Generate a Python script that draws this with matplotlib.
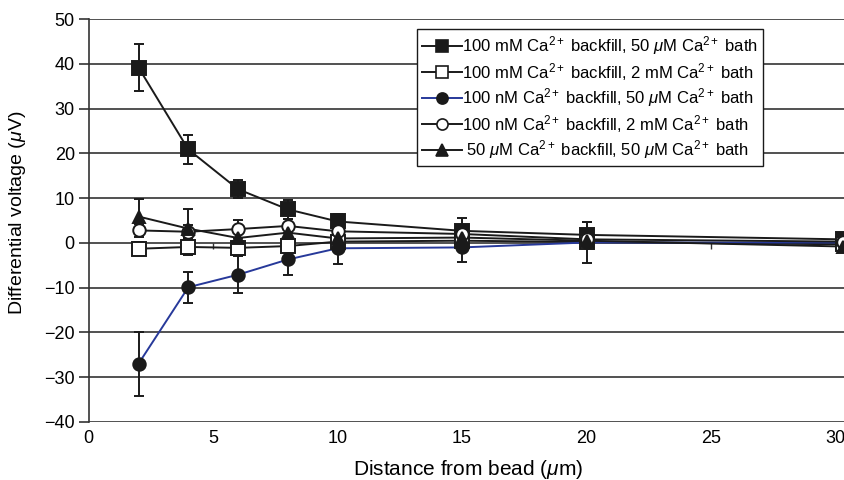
import numpy as np
import matplotlib.pyplot as plt
from matplotlib.lines import Line2D

plt.rcParams['font.family'] = ['Liberation Sans', 'DejaVu Sans']
plt.rcParams['mathtext.fontset'] = 'custom'
plt.rcParams['mathtext.rm'] = 'Liberation Sans'
plt.rcParams['mathtext.it'] = 'Liberation Sans:italic'
plt.rcParams['mathtext.default'] = 'regular'

# distance from bead (um)
dist = [2, 4, 6, 8, 10, 15, 20, 30.3]

# series values (uV) and error bars
sq_fill = [39.2, 20.9, 12.0, 7.5, 4.8, 2.7, 1.8, 0.8]
sq_fill_err = [5.2, 3.2, 2.0, 2.2, 1.6, 2.8, 2.8, 0.8]

sq_open = [-1.3, -0.9, -1.1, -0.7, 0.3, 0.5, 0.2, -0.3]
sq_open_err = [1.5, 1.8, 1.5, 1.2, 1.2, 1.2, 1.2, 0.8]

ci_fill = [-27.0, -9.9, -7.1, -3.7, -1.2, -1.0, 0.1, 0.1]
ci_fill_err = [7.1, 3.5, 4.1, 3.5, 3.5, 3.2, 4.5, 0.8]

ci_open = [2.8, 2.5, 3.1, 3.8, 2.6, 2.0, 0.8, 0.3]
ci_open_err = [1.5, 1.5, 2.1, 1.5, 1.5, 1.5, 1.5, 0.8]

tri = [5.9, 3.2, 1.1, 2.3, 1.0, 1.2, 0.5, -0.8]
tri_err = [3.9, 4.4, 2.0, 2.0, 1.5, 1.5, 1.5, 0.8]

labels = [
    r'100 mM Ca$^{2+}$ backfill, 50 $\mathit{\mu}$M Ca$^{2+}$ bath',
    r'100 mM Ca$^{2+}$ backfill, 2 mM Ca$^{2+}$ bath',
    r'100 nM Ca$^{2+}$ backfill, 50 $\mathit{\mu}$M Ca$^{2+}$ bath',
    r'100 nM Ca$^{2+}$ backfill, 2 mM Ca$^{2+}$ bath',
    r' 50 $\mathit{\mu}$M Ca$^{2+}$ backfill, 50 $\mathit{\mu}$M Ca$^{2+}$ bath',
]

blk = '#1a1a1a'
blue = '#27399a'

fig = plt.figure(figsize=(8.45, 4.8), dpi=100)
ax = fig.add_axes([0.105, 0.121, 0.897, 0.839])

# horizontal gridlines
for yv in range(-40, 51, 10):
    ax.axhline(yv, color='#333333', lw=1.2, zorder=0)

series = [
    (sq_fill, sq_fill_err, 's', blk, blk),
    (sq_open, sq_open_err, 's', 'white', blk),
    (ci_fill, ci_fill_err, 'o', blk, blue),
    (ci_open, ci_open_err, 'o', 'white', blk),
    (tri, tri_err, '^', blk, blk),
]

handles = []
for (vals, err, m, fc, lc), lab in zip(series, labels):
    ax.errorbar(dist, vals, yerr=err, fmt='none', ecolor=blk, elinewidth=1.4,
                capsize=3.5, capthick=1.4, zorder=2)
    ax.plot(dist, vals, color=lc, lw=1.4, zorder=3)
    ms = 9.5 if m == 's' else 9
    ax.plot(dist, vals, ls='none', marker=m, ms=ms, mfc=fc, mec=blk, mew=1.4,
            zorder=4)
    handles.append(Line2D([], [], color=lc, lw=1.4, marker=m, ms=8, mfc=fc,
                          mec=blk, mew=1.2))

# x axis crosses at 0: small ticks on the zero line
xt = [5, 10, 15, 20, 25]
ax.plot(xt, [0] * len(xt), ls='none', marker=3, ms=4, color='#333333', zorder=1)

ax.set_xlim(0, 30.45)
ax.set_ylim(-40, 50)
ax.set_yticks(range(-40, 51, 10))
ax.set_yticklabels(['\u221240', '\u221230', '\u221220', '\u221210', '0', '10', '20', '30', '40', '50'])
ax.set_xticks([0, 5, 10, 15, 20, 25, 30])
ax.tick_params(axis='x', length=0, labelsize=13, pad=6)
ax.tick_params(axis='y', length=7, width=1.2, color='#333333', labelsize=13, pad=3)

for s in ['top', 'right', 'bottom']:
    ax.spines[s].set_visible(False)
ax.spines['left'].set_color('#333333')
ax.spines['left'].set_linewidth(1.2)

ax.set_xlabel(r'Distance from bead ($\mathit{\mu}$m)', fontsize=15, labelpad=8)
ax.set_ylabel(r'Differential voltage ($\mathit{\mu}$V)', fontsize=14)
ax.yaxis.set_label_coords(-0.08, 0.52)

leg = ax.legend(handles, labels, loc='upper right', bbox_to_anchor=(0.889, 0.975),
                fontsize=12, handlelength=2.4, handletextpad=0.0, borderpad=0.3,
                labelspacing=0.22, borderaxespad=0, fancybox=False, framealpha=1,
                edgecolor=blk)
leg.get_frame().set_linewidth(1.0)

fig.savefig('out.png', dpi=100)
